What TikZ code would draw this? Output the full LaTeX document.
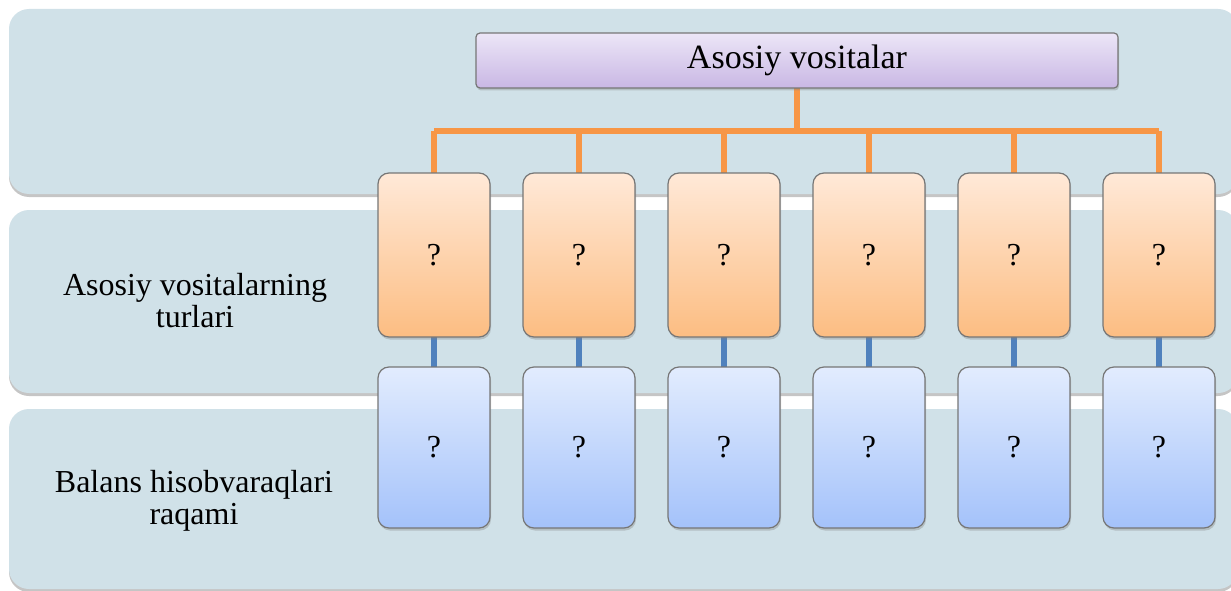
\documentclass[tikz,border=0pt]{standalone}
\usepackage{fontspec}
\setmainfont{Liberation Serif}
\usetikzlibrary{shadows}
\pgfdeclarelayer{bands}
\pgfdeclarelayer{conns}
\pgfsetlayers{bands,conns,main}
\definecolor{bandfill}{RGB}{208,225,232}
\definecolor{orline}{RGB}{247,150,70}
\definecolor{blline}{RGB}{79,129,189}
\definecolor{orTop}{RGB}{255,233,216}
\definecolor{orBot}{RGB}{252,189,130}
\definecolor{blTop}{RGB}{226,236,254}
\definecolor{blBot}{RGB}{164,194,250}
\definecolor{puTop}{RGB}{236,230,247}
\definecolor{puBot}{RGB}{201,183,228}
\definecolor{edge}{RGB}{118,118,118}
\tikzset{
  band/.style={rectangle, rounded corners=20pt, fill=bandfill, anchor=north west,
    inner sep=0pt, outer sep=0pt,
    drop shadow={shadow xshift=0pt, shadow yshift=-3pt, opacity=0.45, fill=gray}},
  bandlabel/.style={align=center, font=\fontsize{32}{32}\selectfont, inner sep=0pt},
  card/.style={rectangle, rounded corners=11pt, draw=edge, line width=1.2pt,
    minimum width=112pt, inner sep=0pt, outer sep=0pt,
    font=\fontsize{32}{32}\selectfont,
    drop shadow={shadow xshift=1pt, shadow yshift=-2.5pt, opacity=0.35, fill=gray}},
  orcard/.style={card, minimum height=164pt, top color=orTop, bottom color=orBot},
  blcard/.style={card, minimum height=161pt, top color=blTop, bottom color=blBot},
  titlebox/.style={rectangle, rounded corners=4pt, draw=edge, line width=1.2pt,
    minimum width=642pt, minimum height=55pt, inner sep=0pt, outer sep=0pt,
    top color=puTop, bottom color=puBot, font=\fontsize{34}{34}\selectfont,
    drop shadow={shadow xshift=1pt, shadow yshift=-2.5pt, opacity=0.35, fill=gray}},
  orconn/.style={draw=orline, line width=5.5pt},
  blconn/.style={draw=blline, line width=5.5pt}
}
\begin{document}
\begin{tikzpicture}[x=1pt, y=-1pt]
\useasboundingbox (0,0) rectangle (1231,591);
\clip (0,0) rectangle (1231,591);
\begin{pgfonlayer}{bands}
\fill[white] (0,0) rectangle (1231,591);
\node[band, minimum width=1229pt, minimum height=185pt] (band1) at (9,9) {};
\node[band, minimum width=1229pt, minimum height=183pt] (band2) at (9,210) {};
\node[band, minimum width=1229pt, minimum height=180pt] (band3) at (9,409) {};
\end{pgfonlayer}
\node[bandlabel] (lab2) at (195,301) {Asosiy vositalarning\\turlari};
\node[bandlabel] (lab3) at (194,501) {Balans hisobvaraqlari\\raqami};
% title
\node[titlebox] (top) at (797,60.5) {Asosiy vositalar};
\coordinate (j) at (797,131);
% cards
\foreach \i/\x in {1/434,2/579,3/724,4/869,5/1014,6/1159}{
  \node[orcard] (o\i) at (\x,255) {?};
  \node[blcard] (b\i) at (\x,447.5) {?};
}
% connectors
\begin{pgfonlayer}{conns}
\path[orconn] (top.south) -- (j);
\path[orconn] (o1.north |- j) -- (o6.north |- j);
\foreach \i in {1,...,6}{
  \path[orconn] (o\i.north |- j) -- (o\i.north);
  \path[blconn] (o\i.south) -- (b\i.north);
}
\end{pgfonlayer}
\end{tikzpicture}
\end{document}
